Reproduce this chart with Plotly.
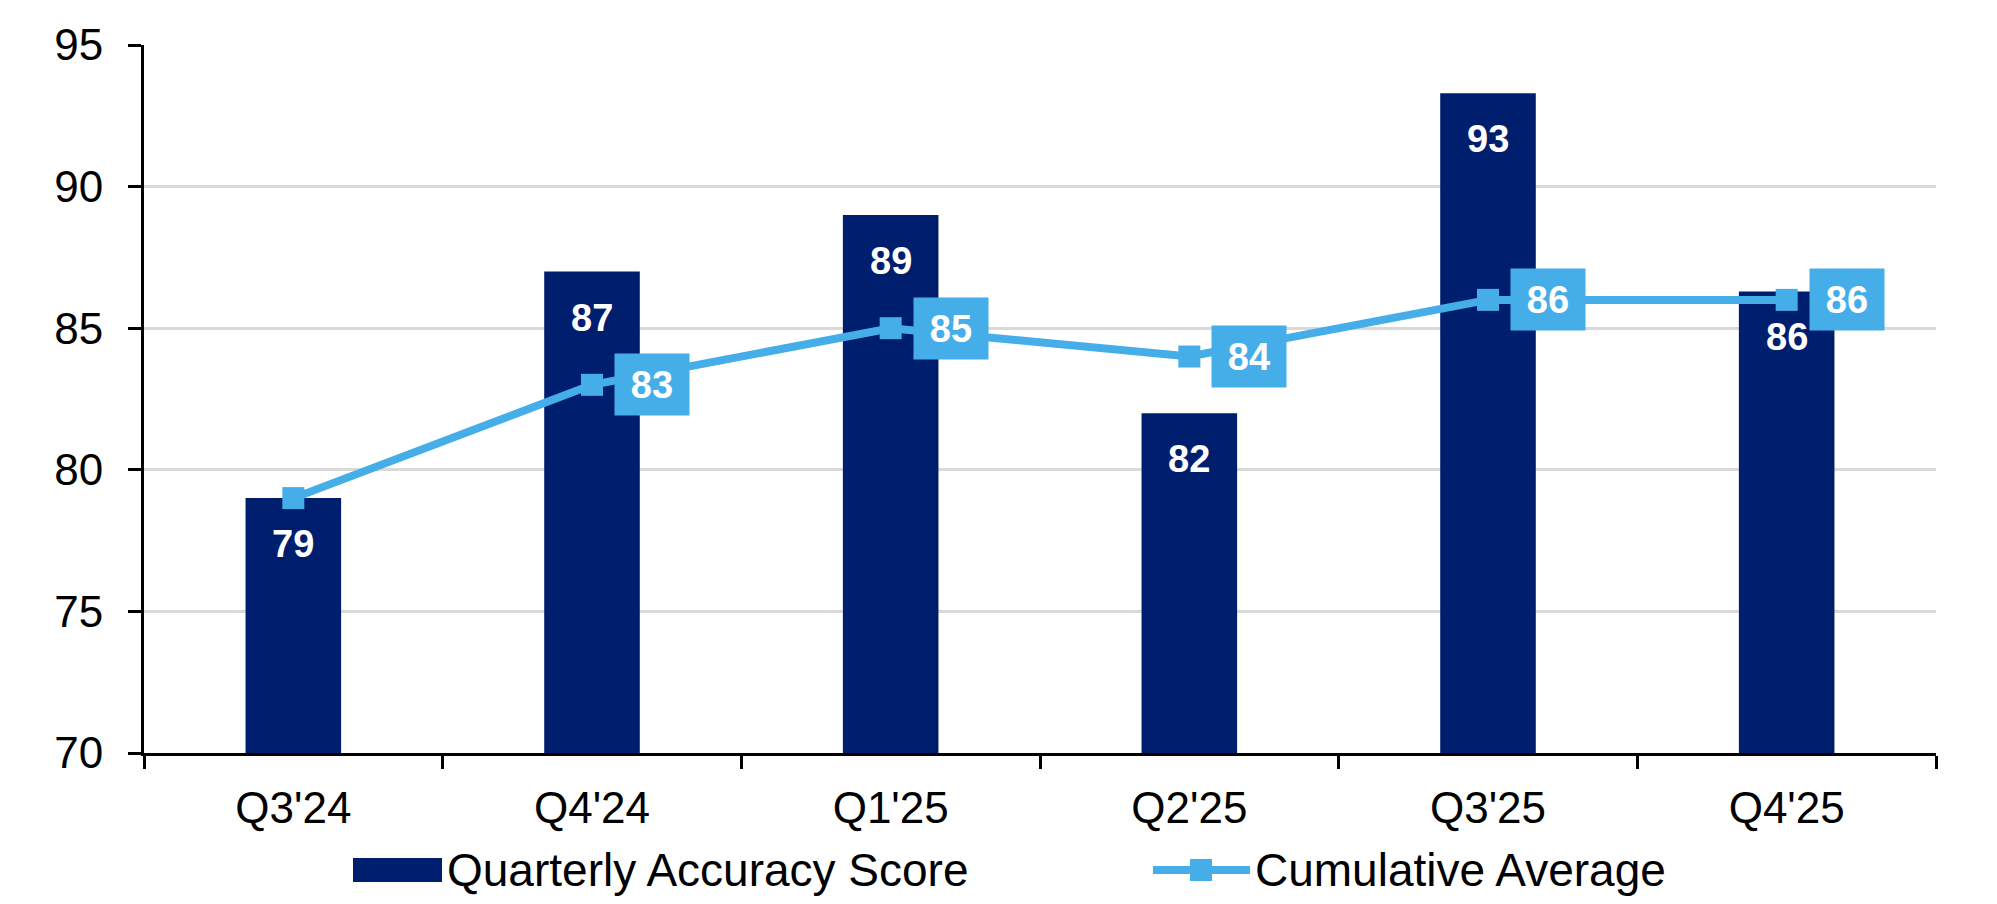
import plotly.graph_objects as go

categories = ["Q3'24", "Q4'24", "Q1'25", "Q2'25", "Q3'25", "Q4'25"]
quarterly_score = [79.0, 87.0, 89.0, 82.0, 93.3, 86.3]
quarterly_labels = ["79", "87", "89", "82", "93", "86"]
cumulative_avg = [79, 83, 85, 84, 86, 86]
cumulative_labels = ["79", "83", "85", "84", "86", "86"]
y_ticks = [70, 75, 80, 85, 90, 95]

NAVY = "#001E6E"
LIGHT = "#45AEE8"
FONT = "Liberation Sans, Arial, sans-serif"

W, H = 1997, 904
ML, MR, MT, MB = 136, 69, 37, 159
PW = W - ML - MR
PH = H - MT - MB


def px_x(p):
    return (p - ML) / PW


def px_y(p):
    return (H - MB - p) / PH


fig = go.Figure()
fig.add_trace(go.Bar(
    x=categories, y=quarterly_score, name="Quarterly Accuracy Score",
    marker=dict(color=NAVY, line=dict(width=0)), showlegend=False,
))
fig.add_trace(go.Scatter(
    x=categories, y=cumulative_avg, name="Cumulative Average",
    mode="lines+markers",
    line=dict(color=LIGHT, width=8),
    marker=dict(symbol="square", size=22, color=LIGHT),
    showlegend=False, cliponaxis=False,
))

annotations = []
for c, v, t in zip(categories, quarterly_score, quarterly_labels):
    annotations.append(dict(
        x=c, y=v, text="<b>%s</b>" % t, showarrow=False,
        yanchor="middle", xanchor="center", yshift=-46,
        font=dict(family=FONT, size=38, color="white"),
    ))
for c, v, t in zip(categories, cumulative_avg, cumulative_labels):
    if t == "79":
        continue
    annotations.append(dict(
        x=c, y=v, text="<b>%s</b>" % t, showarrow=False,
        yanchor="middle", xanchor="center", xshift=60,
        bgcolor=LIGHT, width=74, height=61, borderpad=0,
        font=dict(family=FONT, size=38, color="white"),
    ))

# legend (custom, to match large swatches)
leg_y = 862
annotations.append(dict(
    xref="paper", yref="paper", x=px_x(437), y=px_y(leg_y),
    text="Quarterly Accuracy Score", showarrow=False,
    xanchor="left", yanchor="middle",
    font=dict(family=FONT, size=46, color="black"),
))
annotations.append(dict(
    xref="paper", yref="paper", x=px_x(1245), y=px_y(leg_y),
    text="Cumulative Average", showarrow=False,
    xanchor="left", yanchor="middle",
    font=dict(family=FONT, size=46, color="black"),
))

shapes = [
    dict(type="rect", xref="paper", yref="paper",
         x0=px_x(345), x1=px_x(434), y0=px_y(leg_y - 12), y1=px_y(leg_y + 12),
         fillcolor=NAVY, line=dict(width=0)),
    dict(type="line", xref="paper", yref="paper",
         x0=px_x(1145), x1=px_x(1242), y0=px_y(leg_y), y1=px_y(leg_y),
         line=dict(color=LIGHT, width=8)),
    dict(type="rect", xref="paper", yref="paper",
         x0=px_x(1182), x1=px_x(1204), y0=px_y(leg_y - 11), y1=px_y(leg_y + 11),
         fillcolor=LIGHT, line=dict(width=0)),
]

fig.update_layout(
    width=W, height=H,
    margin=dict(l=ML, r=MR, t=MT, b=MB),
    paper_bgcolor="white", plot_bgcolor="white",
    bargap=0.68,
    font=dict(family=FONT, size=44, color="black"),
    annotations=annotations,
    shapes=shapes,
    showlegend=False,
)
fig.update_xaxes(
    type="category", tickson="boundaries",
    ticks="outside", ticklen=13, tickwidth=3, tickcolor="black",
    showline=True, linecolor="black", linewidth=3,
    showgrid=False, tickfont=dict(family=FONT, size=44, color="black"),
    ticklabelstandoff=14,
)
fig.update_yaxes(
    range=[70, 95], tickvals=y_ticks, ticktext=[str(t) for t in y_ticks],
    ticks="outside", ticklen=13, tickwidth=3, tickcolor="black",
    showline=True, linecolor="black", linewidth=3,
    showgrid=True, gridcolor="#D9D9D9", gridwidth=3,
    zeroline=False, tickfont=dict(family=FONT, size=44, color="black"),
    ticklabelstandoff=16,
)

fig.write_html("out.html")
